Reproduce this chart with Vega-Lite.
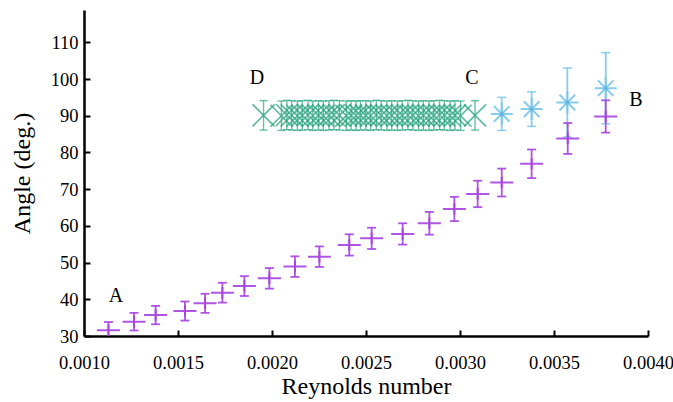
{
  "$schema": "https://vega.github.io/schema/vega-lite/v6.json",
  "width": 564,
  "height": 326,
  "autosize": "none",
  "padding": {"left": 84, "top": 10, "right": 25, "bottom": 66},
  "background": "white",
  "config": {
    "font": "Liberation Serif",
    "view": {"stroke": null},
    "axis": {
      "domainColor": "black",
      "domainWidth": 2.5,
      "tickColor": "black",
      "tickWidth": 2,
      "tickSize": -6,
      "grid": false,
      "labelFlush": false,
      "labelFont": "Liberation Serif",
      "labelFontSize": 18.5,
      "labelColor": "black",
      "titleFont": "Liberation Serif",
      "titleFontSize": 24,
      "titleFontWeight": "normal",
      "titleColor": "black"
    }
  },
  "datasets": {
    "points": [
      {"s": "AB", "re": 0.00113, "angle": 31.6, "lo": 29.4, "hi": 33.8},
      {"s": "AB", "re": 0.001266, "angle": 33.9, "lo": 31.5, "hi": 36.3},
      {"s": "AB", "re": 0.001381, "angle": 35.7, "lo": 33.2, "hi": 38.2},
      {"s": "AB", "re": 0.001537, "angle": 36.8, "lo": 34.2, "hi": 39.4},
      {"s": "AB", "re": 0.001644, "angle": 38.9, "lo": 36.3, "hi": 41.5},
      {"s": "AB", "re": 0.001736, "angle": 41.8, "lo": 39.1, "hi": 44.5},
      {"s": "AB", "re": 0.001853, "angle": 43.6, "lo": 40.9, "hi": 46.3},
      {"s": "AB", "re": 0.001986, "angle": 45.7, "lo": 42.9, "hi": 48.5},
      {"s": "AB", "re": 0.002122, "angle": 48.9, "lo": 46.1, "hi": 51.7},
      {"s": "AB", "re": 0.002252, "angle": 51.6, "lo": 48.8, "hi": 54.4},
      {"s": "AB", "re": 0.002411, "angle": 54.8, "lo": 51.9, "hi": 57.7},
      {"s": "AB", "re": 0.00253, "angle": 56.6, "lo": 53.7, "hi": 59.5},
      {"s": "AB", "re": 0.002695, "angle": 57.8, "lo": 54.9, "hi": 60.7},
      {"s": "AB", "re": 0.002837, "angle": 60.7, "lo": 57.6, "hi": 63.8},
      {"s": "AB", "re": 0.00297, "angle": 64.6, "lo": 61.3, "hi": 67.9},
      {"s": "AB", "re": 0.003094, "angle": 68.7, "lo": 65.1, "hi": 72.3},
      {"s": "AB", "re": 0.003222, "angle": 71.8, "lo": 68.0, "hi": 75.6},
      {"s": "AB", "re": 0.003381, "angle": 76.9, "lo": 73.0, "hi": 80.8},
      {"s": "AB", "re": 0.003573, "angle": 83.8, "lo": 79.6, "hi": 88.0},
      {"s": "AB", "re": 0.003775, "angle": 89.8, "lo": 85.4, "hi": 94.2}
    ],
    "flat": [
      {"s": "DC", "re": 0.001955, "angle": 90.1, "lo": 86.1, "hi": 94.1},
      {"s": "DC", "re": 0.00205, "angle": 90.0, "lo": 86.0, "hi": 94.0},
      {"s": "DC", "re": 0.002079, "angle": 90.2, "lo": 86.2, "hi": 94.2},
      {"s": "DC", "re": 0.002105, "angle": 90.1, "lo": 86.1, "hi": 94.1},
      {"s": "DC", "re": 0.002135, "angle": 90.0, "lo": 86.0, "hi": 94.0},
      {"s": "DC", "re": 0.002161, "angle": 90.1, "lo": 86.1, "hi": 94.1},
      {"s": "DC", "re": 0.002191, "angle": 90.2, "lo": 86.2, "hi": 94.2},
      {"s": "DC", "re": 0.002217, "angle": 90.0, "lo": 86.0, "hi": 94.0},
      {"s": "DC", "re": 0.002247, "angle": 90.1, "lo": 86.1, "hi": 94.1},
      {"s": "DC", "re": 0.002273, "angle": 90.0, "lo": 86.0, "hi": 94.0},
      {"s": "DC", "re": 0.002303, "angle": 90.1, "lo": 86.1, "hi": 94.1},
      {"s": "DC", "re": 0.002329, "angle": 90.2, "lo": 86.2, "hi": 94.2},
      {"s": "DC", "re": 0.002359, "angle": 90.1, "lo": 86.1, "hi": 94.1},
      {"s": "DC", "re": 0.002395, "angle": 90.0, "lo": 86.0, "hi": 94.0},
      {"s": "DC", "re": 0.002421, "angle": 90.1, "lo": 86.1, "hi": 94.1},
      {"s": "DC", "re": 0.002447, "angle": 90.0, "lo": 86.0, "hi": 94.0},
      {"s": "DC", "re": 0.002471, "angle": 90.1, "lo": 86.1, "hi": 94.1},
      {"s": "DC", "re": 0.002499, "angle": 90.1, "lo": 86.1, "hi": 94.1},
      {"s": "DC", "re": 0.002525, "angle": 90.0, "lo": 86.0, "hi": 94.0},
      {"s": "DC", "re": 0.002555, "angle": 90.2, "lo": 86.2, "hi": 94.2},
      {"s": "DC", "re": 0.002581, "angle": 90.1, "lo": 86.1, "hi": 94.1},
      {"s": "DC", "re": 0.002611, "angle": 90.0, "lo": 86.0, "hi": 94.0},
      {"s": "DC", "re": 0.002637, "angle": 90.1, "lo": 86.1, "hi": 94.1},
      {"s": "DC", "re": 0.002667, "angle": 90.0, "lo": 86.0, "hi": 94.0},
      {"s": "DC", "re": 0.002693, "angle": 90.1, "lo": 86.1, "hi": 94.1},
      {"s": "DC", "re": 0.002723, "angle": 90.2, "lo": 86.2, "hi": 94.2},
      {"s": "DC", "re": 0.002749, "angle": 90.1, "lo": 86.1, "hi": 94.1},
      {"s": "DC", "re": 0.002779, "angle": 90.0, "lo": 86.0, "hi": 94.0},
      {"s": "DC", "re": 0.002805, "angle": 90.1, "lo": 86.1, "hi": 94.1},
      {"s": "DC", "re": 0.002835, "angle": 90.0, "lo": 86.0, "hi": 94.0},
      {"s": "DC", "re": 0.002861, "angle": 90.1, "lo": 86.1, "hi": 94.1},
      {"s": "DC", "re": 0.002891, "angle": 90.2, "lo": 86.2, "hi": 94.2},
      {"s": "DC", "re": 0.002917, "angle": 90.1, "lo": 86.1, "hi": 94.1},
      {"s": "DC", "re": 0.002947, "angle": 90.0, "lo": 86.0, "hi": 94.0},
      {"s": "DC", "re": 0.002973, "angle": 90.1, "lo": 86.1, "hi": 94.1},
      {"s": "DC", "re": 0.003003, "angle": 90.0, "lo": 86.0, "hi": 94.0},
      {"s": "DC", "re": 0.00308, "angle": 90.1, "lo": 86.1, "hi": 94.1}
    ],
    "stars": [
      {"s": "CB", "re": 0.003222, "angle": 90.5, "lo": 86.0, "hi": 95.0},
      {"s": "CB", "re": 0.003381, "angle": 91.8, "lo": 87.1, "hi": 96.5},
      {"s": "CB", "re": 0.003571, "angle": 93.6, "lo": 84.2, "hi": 103.0},
      {"s": "CB", "re": 0.003775, "angle": 97.5, "lo": 87.8, "hi": 107.2}
    ],
    "notes": [
      {"label": "A", "re": 0.00117, "angle": 40.9},
      {"label": "B", "re": 0.003936, "angle": 94.3},
      {"label": "C", "re": 0.003064, "angle": 100.2},
      {"label": "D", "re": 0.00192, "angle": 100.2}
    ]
  },
  "encoding": {
    "x": {
      "field": "re",
      "type": "quantitative",
      "title": "Reynolds number",
      "scale": {"domain": [0.001, 0.004], "nice": false, "zero": false},
      "axis": {"values": [0.001, 0.0015, 0.002, 0.0025, 0.003, 0.0035, 0.004], "format": ".4f", "labelPadding": 23, "titlePadding": 3}
    },
    "y": {
      "field": "angle",
      "type": "quantitative",
      "title": "Angle (deg.)",
      "scale": {"domain": [30, 118.8], "nice": false, "zero": false},
      "axis": {"values": [30, 40, 50, 60, 70, 80, 90, 100, 110], "labelPadding": 12, "titlePadding": 16}
    }
  },
  "layer": [
    {
      "data": {"name": "flat"},
      "layer": [
        {"mark": {"type": "rule", "color": "#2aa57e", "strokeWidth": 1.4, "opacity": 0.7, "clip": true}, "encoding": {"y": {"field": "lo", "type": "quantitative"}, "y2": {"field": "hi"}}},
        {"mark": {"type": "tick", "color": "#2aa57e", "thickness": 1.4, "size": 8, "opacity": 0.7, "orient": "horizontal"}, "encoding": {"y": {"field": "lo", "type": "quantitative"}}},
        {"mark": {"type": "tick", "color": "#2aa57e", "thickness": 1.4, "size": 8, "opacity": 0.7, "orient": "horizontal"}, "encoding": {"y": {"field": "hi", "type": "quantitative"}}},
        {"mark": {"type": "point", "shape": "M-1,-1L1,1M-1,1L1,-1", "size": 484, "filled": false, "color": "#2aa57e", "strokeWidth": 1.7, "opacity": 0.75}}
      ]
    },
    {
      "data": {"name": "stars"},
      "layer": [
        {"mark": {"type": "rule", "color": "#7cc6ea", "strokeWidth": 1.8, "opacity": 0.9, "clip": true}, "encoding": {"y": {"field": "lo", "type": "quantitative"}, "y2": {"field": "hi"}}},
        {"mark": {"type": "tick", "color": "#7cc6ea", "thickness": 1.5, "size": 9, "opacity": 0.9, "orient": "horizontal"}, "encoding": {"y": {"field": "lo", "type": "quantitative"}}},
        {"mark": {"type": "tick", "color": "#7cc6ea", "thickness": 1.5, "size": 9, "opacity": 0.9, "orient": "horizontal"}, "encoding": {"y": {"field": "hi", "type": "quantitative"}}},
        {"mark": {"type": "point", "shape": "M-1,0L1,0M0,-1L0,1M-0.71,-0.71L0.71,0.71M-0.71,0.71L0.71,-0.71", "size": 484, "filled": false, "color": "#7cc6ea", "strokeWidth": 2, "opacity": 0.9}},
        {"mark": {"type": "point", "shape": "circle", "size": 16, "filled": true, "color": "#5fb6e2", "opacity": 0.9}}
      ]
    },
    {
      "data": {"name": "points"},
      "layer": [
        {"mark": {"type": "rule", "color": "#a643e0", "strokeWidth": 1.8, "opacity": 0.9, "clip": true}, "encoding": {"y": {"field": "lo", "type": "quantitative"}, "y2": {"field": "hi"}}},
        {"mark": {"type": "tick", "color": "#a643e0", "thickness": 1.8, "size": 9, "opacity": 0.9, "orient": "horizontal", "clip": true}, "encoding": {"y": {"field": "lo", "type": "quantitative"}}},
        {"mark": {"type": "tick", "color": "#a643e0", "thickness": 1.8, "size": 9, "opacity": 0.9, "orient": "horizontal"}, "encoding": {"y": {"field": "hi", "type": "quantitative"}}},
        {"mark": {"type": "point", "shape": "M-1,0L1,0M0,-0.5L0,0.5", "size": 529, "filled": false, "color": "#a643e0", "strokeWidth": 2, "opacity": 0.9}}
      ]
    },
    {
      "data": {"name": "notes"},
      "mark": {"type": "text", "font": "Liberation Serif", "fontSize": 20, "color": "black", "align": "center", "baseline": "middle"},
      "encoding": {"text": {"field": "label"}}
    }
  ]
}
